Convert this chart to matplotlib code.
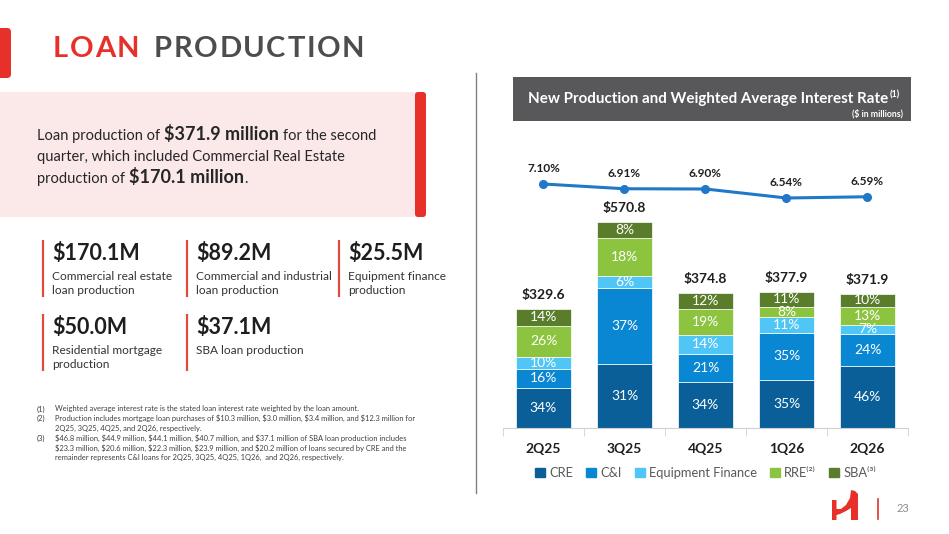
import matplotlib.pyplot as plt
from matplotlib.patches import Rectangle, FancyBboxPatch, Polygon, Patch
import numpy as np

plt.rcParams['font.family'] = ['Lato', 'DejaVu Sans']
plt.rcParams['text.parse_math'] = False

# chart data
quarters = ['2Q25', '3Q25', '4Q25', '1Q26', '2Q26']
totals = [329.6, 570.8, 374.8, 377.9, 371.9]
rates = [7.10, 6.91, 6.90, 6.54, 6.59]
cre_pct = [34, 31, 34, 35, 46]
ci_pct = [16, 37, 21, 35, 24]
ef_pct = [10, 6, 14, 11, 7]
rre_pct = [26, 18, 19, 8, 13]
sba_pct = [14, 8, 12, 11, 10]
seg_names = ['CRE', 'C&I', 'Equipment Finance', 'RRE⁽²⁾', 'SBA⁽³⁾']
seg_colors = ['#0b5f98', '#0a87d2', '#4fc6f6', '#8cc43f', '#5a7d2b']

# left panel text
metric_vals = ['$170.1M', '$89.2M', '$25.5M', '$50.0M', '$37.1M']
metric_desc = [['Commercial real estate', 'loan production'],
               ['Commercial and industrial', 'loan production'],
               ['Equipment finance', 'production'],
               ['Residential mortgage', 'production'],
               ['SBA loan production']]
footnotes = [
    ('(1)', ['Weighted average interest rate is the stated loan interest rate weighted by the loan amount.']),
    ('(2)', ['Production includes mortgage loan purchases of $10.3 million, $3.0 million, $3.4 million, and $12.3 million for',
             '2Q25, 3Q25, 4Q25, and 2Q26, respectively.']),
    ('(3)', ['$46.8 million, $44.9 million, $44.1 million, $40.7 million, and $37.1 million of SBA loan production includes',
             '$23.3 million, $20.6 million, $22.3 million, $23.9 million, and $20.2 million of loans secured by CRE and the',
             'remainder represents C&I loans for 2Q25, 3Q25, 4Q25, 1Q26,  and 2Q26, respectively.']),
]

RED = '#e8302a'
W, H = 949, 534
fig = plt.figure(figsize=(W / 100, H / 100), dpi=100)
bg = fig.add_axes([0, 0, 1, 1])
bg.set_xlim(0, W)
bg.set_ylim(H, 0)
bg.axis('off')
rend = fig.canvas.get_renderer()


def width_of(t):
    return t.get_window_extent(rend).width


def runs(x, y, parts, color='#262626'):
    # parts: (text, size, weight, gap_before)
    for txt, size, weight, gap in parts:
        x += gap
        t = bg.text(x, y, txt, fontsize=size, weight=weight, color=color, va='baseline')
        x += width_of(t)
    return x


def spaced(x, y, s, color, size, track):
    for ch in s:
        t = bg.text(x, y, ch, fontsize=size, weight='bold', color=color, va='baseline')
        x += width_of(t) + track
    return x - track


# ---- left side ----
bg.add_patch(FancyBboxPatch((-6, 28), 17, 50, boxstyle='round,pad=0,rounding_size=4', color=RED, lw=0))
x = spaced(53, 57, 'LOAN', RED, 21, 1.5)
spaced(x + 15, 57, 'PRODUCTION', '#4d4d4f', 21, 1.6)

bg.add_patch(Rectangle((0, 92), 418, 125, color='#fbe8e9', lw=0))
bg.add_patch(FancyBboxPatch((415, 92), 11, 125, boxstyle='round,pad=0,rounding_size=3', color=RED, lw=0))
runs(37, 140, [('Loan production of', 10.5, 'normal', 0), ('$371.9 million', 13, 'bold', 4),
               ('for the second', 10.5, 'normal', 4)])
runs(37, 161, [('quarter, which included Commercial Real Estate', 10.5, 'normal', 0)])
runs(37, 183, [('production of', 10.5, 'normal', 0), ('$170.1 million', 13, 'bold', 4),
               ('.', 10.5, 'normal', 0)])

col_x = [43, 187, 339, 43, 187]
row_y = [240, 240, 240, 314, 314]
for val, desc, cx, ry in zip(metric_vals, metric_desc, col_x, row_y):
    bg.plot([cx, cx], [ry, ry + 57], color='#e04a40', lw=1.6, solid_capstyle='butt')
    bg.text(cx + 9, ry + 14, val, fontsize=15.5, weight='bold', color='#1e1e1e', va='center')
    for i, line in enumerate(desc):
        bg.text(cx + 9, ry + 37 + i * 13, line, fontsize=8.6, color='#333333', va='center')

fy = 409
for num, lines in footnotes:
    bg.text(37, fy, num, fontsize=5.4, color='#404040', va='center')
    for line in lines:
        bg.text(55, fy, line, fontsize=5.4, color='#404040', va='center')
        fy += 9.7

bg.plot([476, 476], [73, 493], color='#808080', lw=1)

# ---- chart header ----
bg.add_patch(Rectangle((513, 77), 398, 44, color='#58585a', lw=0))
t = bg.text(528, 99, 'New Production and Weighted Average Interest Rate', fontsize=10.9,
            weight='bold', color='white', va='center')
bg.text(528 + width_of(t) + 1, 95, '(1)', fontsize=6.5, weight='bold', color='white', va='center')
bg.text(903, 114, '($ in millions)', fontsize=6.3, weight='bold', color='white', va='center', ha='right')

# ---- chart ----
ax = fig.add_axes([503 / W, 1 - 428 / H, 405 / W, (428 - 150) / H])
ax.patch.set_alpha(0)
xs = np.arange(len(quarters))
bottom = np.zeros(len(quarters))
tot = np.array(totals)
for pct, col in zip([cre_pct, ci_pct, ef_pct, rre_pct, sba_pct], seg_colors):
    h = tot * np.array(pct) / 100
    ax.bar(xs, h, 0.67, bottom=bottom, color=col, edgecolor='white', linewidth=0.5)
    for xi, b, hh, p in zip(xs, bottom, h, pct):
        ax.text(xi, b + hh / 2, f'{p}%', ha='center', va='center', color='white', fontsize=10)
    bottom += h
for xi, v in zip(xs, totals):
    ax.annotate(f'${v:.1f}', (xi, v), xytext=(0, 14), textcoords='offset pixels',
                ha='center', va='center', fontsize=10, weight='bold', color='#1e1e1e')

ax.set_xlim(-0.5, 4.5)
ax.set_ylim(0, 278 / 0.361)
ax.set_yticks([])
for s in ['top', 'left', 'right']:
    ax.spines[s].set_visible(False)
ax.spines['bottom'].set_color('#d0d0d0')
ax.set_xticks(xs, quarters)
ax.set_xticks(np.arange(-0.5, 5), minor=True)
ax.tick_params(axis='x', which='major', length=0, pad=11, labelsize=10, labelcolor='#1e1e1e')
ax.tick_params(axis='x', which='minor', length=6, color='#d0d0d0')
for lab in ax.get_xticklabels():
    lab.set_fontweight('bold')

handles = [Patch(color=c) for c in seg_colors]
ax.legend(handles, seg_names, loc='center', bbox_to_anchor=(0.5, -0.162), ncol=5, frameon=False,
          fontsize=9.3, handlelength=0.75, handleheight=0.75, handletextpad=0.35,
          columnspacing=1.0, labelcolor='#595959')

ax2 = ax.twinx()
ax2.set_ylim(7.10 - 244 / 25, 7.10 + 34 / 25)
ax2.axis('off')
ax2.plot(xs, rates, color='#1f78c8', lw=2.2, marker='o', ms=5.5)
for xi, r in zip(xs, rates):
    ax2.annotate(f'{r:.2f}%', (xi, r), xytext=(0, 15), textcoords='offset pixels',
                 ha='center', va='center', fontsize=8.5, weight='bold', color='#1e1e1e')

# ---- footer logo ----
bg.add_patch(Polygon([(832, 500), (836.5, 500), (836.5, 509), (841, 509), (846, 505), (850, 498),
                      (851, 490), (855, 491), (858, 494), (858, 520), (851, 520), (851, 508),
                      (846, 511), (840, 514), (836.5, 515), (836.5, 520), (832, 520)],
                     closed=True, color=RED, lw=0))
bg.plot([878, 878], [499, 519], color=RED, lw=1.2)
bg.text(897, 509, '23', fontsize=8, color='#8c8c8c', va='center')

fig.savefig('out.png', dpi=100)
